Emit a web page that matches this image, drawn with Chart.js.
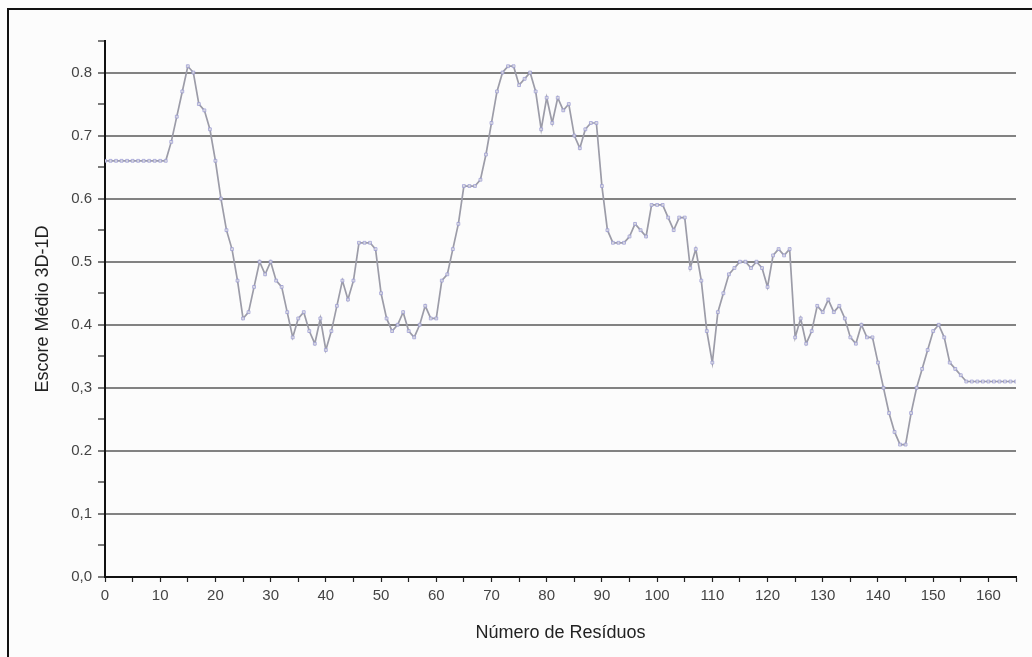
<!DOCTYPE html>
<html>
<head>
<meta charset="utf-8">
<script src="https://cdn.jsdelivr.net/npm/chart.js@4"></script>
<style>
  html, body { margin: 0; padding: 0; background: #fff; }
  #wrap { position: relative; width: 1032px; height: 657px; background: #fcfcfc; }
  #frame { position: absolute; left: 7px; top: 8px; right: -4px; bottom: -4px;
           border-top: 2px solid #111; border-left: 2px solid #111; pointer-events: none; }
  canvas { position: absolute; left: 0; top: 0; }
</style>
</head>
<body>
<div id="wrap">
  <canvas id="c" width="1032" height="657"></canvas>
  <div id="frame"></div>
</div>
<script>
// Mean 3D-1D score per residue (residue 0 .. 165)
const scores = [
  0.66, 0.66, 0.66, 0.66, 0.66, 0.66, 0.66, 0.66, 0.66, 0.66, 0.66, 0.66,
  0.69, 0.73, 0.77, 0.81, 0.80, 0.75, 0.74, 0.71, 0.66, 0.60,
  0.55, 0.52, 0.47, 0.41, 0.42, 0.46, 0.50, 0.48, 0.50, 0.47,
  0.46, 0.42, 0.38, 0.41, 0.42, 0.39, 0.37, 0.41, 0.36, 0.39,
  0.43, 0.47, 0.44, 0.47, 0.53, 0.53, 0.53, 0.52, 0.45, 0.41,
  0.39, 0.40, 0.42, 0.39, 0.38, 0.40, 0.43, 0.41, 0.41, 0.47,
  0.48, 0.52, 0.56, 0.62, 0.62, 0.62, 0.63, 0.67, 0.72, 0.77,
  0.80, 0.81, 0.81, 0.78, 0.79, 0.80, 0.77, 0.71, 0.76, 0.72,
  0.76, 0.74, 0.75, 0.70, 0.68, 0.71, 0.72, 0.72, 0.62, 0.55,
  0.53, 0.53, 0.53, 0.54, 0.56, 0.55, 0.54, 0.59, 0.59, 0.59,
  0.57, 0.55, 0.57, 0.57, 0.49, 0.52, 0.47, 0.39, 0.34, 0.42,
  0.45, 0.48, 0.49, 0.50, 0.50, 0.49, 0.50, 0.49, 0.46, 0.51,
  0.52, 0.51, 0.52, 0.38, 0.41, 0.37, 0.39, 0.43, 0.42, 0.44,
  0.42, 0.43, 0.41, 0.38, 0.37, 0.40, 0.38, 0.38, 0.34, 0.30,
  0.26, 0.23, 0.21, 0.21, 0.26, 0.30, 0.33, 0.36, 0.39, 0.40,
  0.38, 0.34, 0.33, 0.32, 0.31, 0.31, 0.31, 0.31, 0.31, 0.31,
  0.31, 0.31, 0.31, 0.31
];
const firstResidue = 0;

// Tick labels
const yTickValues = [0.0, 0.1, 0.2, 0.3, 0.4, 0.5, 0.6, 0.7, 0.8];
const yTickLabels = ['0,0', '0,1', '0.2', '0,3', '0.4', '0.5', '0.6', '0.7', '0.8'];
const xTickLabels = ['0', '10', '20', '30', '40', '50', '60', '70', '80', '90', '100', '110', '120', '130', '140', '150', '160'];

const xTitle = 'Número de Resíduos';
const yTitle = 'Escore Médio 3D-1D';

const points = scores.map((v, i) => ({ x: firstResidue + i, y: v }));

const isMajorY = v => Math.abs(v * 10 - Math.round(v * 10)) < 1e-6;
const yLabelFor = v => {
  const k = yTickValues.findIndex(t => Math.abs(t - v) < 1e-6);
  return k >= 0 ? yTickLabels[k] : '';
};

const tickFont = { family: 'Liberation Sans, Arial, sans-serif', size: 15 };
const titleFont = { family: 'Liberation Sans, Arial, sans-serif', size: 18 };

new Chart(document.getElementById('c'), {
  type: 'line',
  data: {
    datasets: [{
      data: points,
      borderColor: '#9c9ca8',
      borderWidth: 1.7,
      pointStyle: 'rect',
      pointRadius: 2,
      pointBorderWidth: 0.8,
      pointBorderColor: '#9a9ad0',
      pointBackgroundColor: 'rgba(255,255,255,0.6)',
      tension: 0
    }]
  },
  options: {
    responsive: false,
    animation: false,
    layout: { padding: { top: 41, right: 16, left: 0, bottom: 0 } },
    plugins: { legend: { display: false }, tooltip: { enabled: false } },
    scales: {
      x: {
        type: 'linear',
        min: 0, max: 165,
        border: { color: '#111', width: 2 },
        grid: {
          drawOnChartArea: false,
          tickLength: 5,
          tickColor: '#222',
          tickWidth: 1.2
        },
        ticks: {
          stepSize: 5,
          autoSkip: false,
          maxRotation: 0,
          padding: 5,
          color: '#444',
          font: tickFont,
          callback: v => (v % 10 === 0 ? xTickLabels[v / 10] : '')
        },
        title: {
          display: true,
          text: xTitle,
          color: '#222',
          font: titleFont,
          padding: { top: 0, bottom: 13 }
        },
        afterFit: s => { s.height = 80; }
      },
      y: {
        min: 0, max: 0.85,
        border: { color: '#111', width: 2 },
        grid: {
          color: ctx => (ctx.tick && ctx.tick.value > 0.05 && ctx.tick.value < 0.82 && isMajorY(ctx.tick.value)) ? '#828282' : 'rgba(0,0,0,0)',
          lineWidth: 2,
          tickLength: 7,
          tickColor: '#222',
          tickWidth: 1.2
        },
        ticks: {
          stepSize: 0.05,
          autoSkip: false,
          padding: 6,
          color: '#444',
          font: tickFont,
          callback: v => yLabelFor(v)
        },
        title: {
          display: true,
          text: yTitle,
          color: '#222',
          font: titleFont,
          padding: { top: 32, bottom: 0 }
        },
        afterFit: s => { s.width = 105; }
      }
    }
  }
});
</script>
</body>
</html>
